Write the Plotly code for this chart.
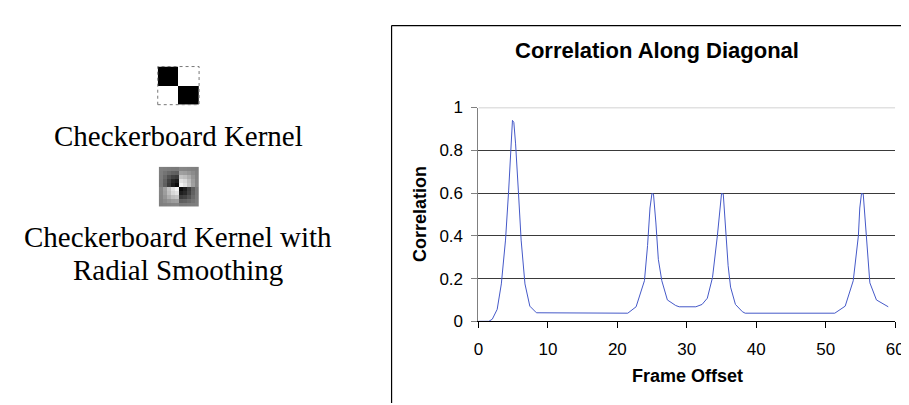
import plotly.graph_objects as go

W, H = 909, 405

# ---- data ----
frame_offset = [0, 1.5, 2.0, 2.7, 3.3, 3.9, 4.35, 4.65, 4.9, 5.1, 5.35, 5.75, 6.15, 6.7, 7.4, 8.35,
                21.5, 22.7, 23.9, 24.35, 24.7, 24.98, 25.2, 25.55, 25.9, 26.4, 27.2, 28.4, 28.9,
                31.3, 32.2, 32.95, 33.7, 34.4, 34.77, 35.0, 35.25, 35.67, 35.95, 36.3, 37.0, 38.0, 38.4,
                51.3, 52.8, 53.96, 54.3, 54.7, 54.9, 55.15, 55.4, 55.8, 56.1, 56.35, 57.3, 58.0, 59.0]
correlation = [0, 0, 0.01, 0.056, 0.175, 0.38, 0.61, 0.83, 0.94, 0.93, 0.83, 0.61, 0.38, 0.175, 0.071, 0.04,
               0.038, 0.068, 0.19, 0.354, 0.53, 0.598, 0.595, 0.46, 0.29, 0.19, 0.10, 0.074, 0.068,
               0.068, 0.079, 0.108, 0.205, 0.40, 0.53, 0.598, 0.595, 0.383, 0.26, 0.16, 0.079, 0.045, 0.038,
               0.038, 0.071, 0.19, 0.29, 0.40, 0.53, 0.598, 0.595, 0.40, 0.26, 0.18, 0.10, 0.086, 0.068]

x_ticks = [0, 10, 20, 30, 40, 50, 60]
y_ticks = [0, 0.2, 0.4, 0.6, 0.8, 1]
y_tick_labels = ["0", "0.2", "0.4", "0.6", "0.8", "1"]

checker_kernel = [[0, 255],
                  [255, 0]]

smoothed_kernel = [
    [128, 126, 124, 122, 121, 134, 133, 131, 129, 127],
    [126, 116, 106, 98, 95, 160, 157, 149, 139, 129],
    [124, 106, 82, 66, 60, 195, 189, 173, 149, 131],
    [122, 98, 66, 40, 30, 225, 215, 189, 157, 133],
    [121, 95, 60, 30, 12, 243, 225, 195, 160, 134],
    [134, 160, 195, 225, 243, 12, 30, 60, 95, 121],
    [133, 157, 189, 215, 225, 30, 40, 66, 98, 122],
    [131, 149, 173, 189, 195, 60, 66, 82, 106, 124],
    [129, 139, 149, 157, 160, 95, 98, 106, 116, 126],
    [127, 129, 131, 133, 134, 121, 122, 124, 126, 128],
]

title_text = "Correlation Along Diagonal"
x_title = "Frame Offset"
y_title = "Correlation"
label1 = "Checkerboard Kernel"
label2a = "Checkerboard Kernel with"
label2b = "Radial Smoothing"


def px(x):
    return x / W


def py(y):
    return 1 - y / H


fig = go.Figure()

fig.add_trace(go.Scatter(x=frame_offset, y=correlation, mode="lines",
                         line=dict(color="#4559c8", width=1), showlegend=False,
                         hoverinfo="skip", xaxis="x", yaxis="y"))

gray = [[0, "black"], [1, "white"]]
fig.add_trace(go.Heatmap(z=checker_kernel, colorscale=gray, zmin=0, zmax=255,
                         showscale=False, xaxis="x2", yaxis="y2", hoverinfo="skip"))
fig.add_trace(go.Heatmap(z=smoothed_kernel, colorscale=gray, zmin=0, zmax=255,
                         showscale=False, xaxis="x3", yaxis="y3", hoverinfo="skip"))

# plot area geometry (pixels)
X0, X1 = 472.7, 896.0
Y_TOP, Y_BOT = 95.0, 319.3

axis_font = dict(family="Liberation Sans, Arial", size=17, color="black")

fig.update_layout(
    width=W, height=H,
    margin=dict(l=0, r=0, t=0, b=0),
    paper_bgcolor="white", plot_bgcolor="white",
    xaxis=dict(domain=[px(X0), px(X1)], range=[0, 60], tickvals=x_ticks,
               showgrid=False, zeroline=False, showline=True, linecolor="black", linewidth=1,
               ticks="outside", ticklen=6, tickcolor="black", tickwidth=1,
               tickfont=axis_font, anchor="y", fixedrange=True, ticklabelstandoff=6),
    yaxis=dict(domain=[py(Y_BOT), py(Y_TOP)], range=[0, 1], tickvals=y_ticks, ticktext=y_tick_labels,
               showgrid=True, gridcolor="#3a3a3a", gridwidth=1, zeroline=False,
               showline=True, linecolor="#808080", linewidth=1,
               ticks="outside", ticklen=6, tickcolor="#808080", tickwidth=1,
               tickfont=axis_font, anchor="x", fixedrange=True, ticklabelstandoff=5),
    xaxis2=dict(domain=[px(147), px(189)], visible=False, anchor="y2", fixedrange=True),
    yaxis2=dict(domain=[py(92), py(52)], visible=False, anchor="x2", autorange="reversed", fixedrange=True),
    xaxis3=dict(domain=[px(148), px(189)], visible=False, anchor="y3", fixedrange=True),
    yaxis3=dict(domain=[py(199), py(157)], visible=False, anchor="x3", autorange="reversed", fixedrange=True),
)

shapes = [
    # chart frame (left and top edges visible)
    dict(type="line", xref="paper", yref="paper", x0=px(384.5), x1=px(384.5), y0=py(9), y1=py(405),
         line=dict(color="black", width=1.2)),
    dict(type="line", xref="paper", yref="paper", x0=px(384.5), x1=1, y0=py(9), y1=py(9),
         line=dict(color="black", width=1.2)),
    # light top gridline
    dict(type="line", xref="x", yref="y", x0=0, x1=60, y0=1, y1=1,
         line=dict(color="#c4c4c4", width=1.2)),
    # dotted outline of checkerboard
    dict(type="rect", xref="paper", yref="paper", x0=px(147), x1=px(189), y0=py(92), y1=py(52),
         line=dict(color="#777777", width=1, dash="dot")),
]
fig.update_layout(shapes=shapes)

serif = dict(family="Liberation Serif, Times New Roman", size=29, color="black")
bold = dict(family="Liberation Sans, Arial", color="black")

annotations = [
    dict(text="<b>%s</b>" % title_text, x=px(654), y=py(35), xref="paper", yref="paper",
         showarrow=False, xanchor="center", yanchor="middle", font=dict(size=22, **bold)),
    dict(text="<b>%s</b>" % x_title, x=px(685), y=py(377), xref="paper", yref="paper",
         showarrow=False, xanchor="center", yanchor="middle", font=dict(size=18, **bold)),
    dict(text="<b>%s</b>" % y_title, x=px(414), y=py(207), xref="paper", yref="paper",
         showarrow=False, xanchor="center", yanchor="middle", textangle=-90, font=dict(size=18, **bold)),
    dict(text=label1, x=px(168), y=py(125), xref="paper", yref="paper",
         showarrow=False, xanchor="center", yanchor="middle", font=serif),
    dict(text=label2a, x=px(168), y=py(231), xref="paper", yref="paper",
         showarrow=False, xanchor="center", yanchor="middle", font=serif),
    dict(text=label2b, x=px(168), y=py(265), xref="paper", yref="paper",
         showarrow=False, xanchor="center", yanchor="middle", font=serif),
]
fig.update_layout(annotations=annotations)

fig.write_html("out.html")
